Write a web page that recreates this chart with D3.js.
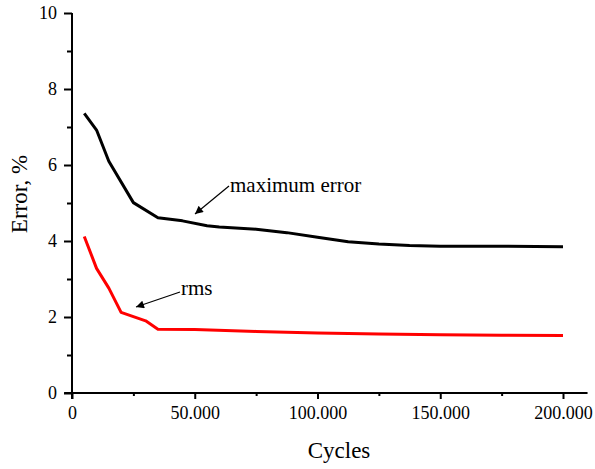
<!DOCTYPE html>
<html>
<head>
<meta charset="utf-8">
<script src="https://cdn.jsdelivr.net/npm/d3@7"></script>
<style>
	body { margin: 0; background: #fff; }
</style>
</head>
<body>
<script>
// data
var cyclesMax = [5000, 10000, 15000, 25000, 35000, 45000, 55000, 60000, 75000, 87500, 100000, 112500, 125000, 137500, 150000, 175000, 200000];
var maxError  = [7.36, 6.92, 6.10, 5.01, 4.61, 4.53, 4.40, 4.37, 4.31, 4.22, 4.10, 3.98, 3.92, 3.88, 3.86, 3.86, 3.85];
var cyclesRms = [5000, 10000, 15000, 20000, 30000, 35000, 50000, 75000, 100000, 125000, 150000, 175000, 200000];
var rmsError  = [4.12, 3.28, 2.76, 2.12, 1.90, 1.68, 1.67, 1.62, 1.58, 1.55, 1.53, 1.52, 1.51];
var xTicks = [0, 50000, 100000, 150000, 200000];
var xMinor = [25000, 75000, 125000, 175000];
var yTicks = [0, 2, 4, 6, 8, 10];
var yMinor = [1, 3, 5, 7, 9];

(function(){
	var serif = "Liberation Serif";
	var svg = d3.select("body")
			.append("svg")
			.attr("width", 595)
			.attr("height", 469)
			.attr("font-family", serif);

	var x = d3.scaleLinear().domain([0, 200000]).range([72, 563]);
	var y = d3.scaleLinear().domain([0, 10]).range([393, 13]);

	var loc = d3.formatLocale({decimal: ",", thousands: ".", grouping: [3], currency: ["", ""]});
	var fmt = loc.format(",d");

	// axis lines
	svg.append("line")
			.attr("x1", x(-3200)).attr("x2", x(210000))
			.attr("y1", y(0)).attr("y2", y(0))
			.attr("stroke", "#000").attr("stroke-width", 2);
	svg.append("line")
			.attr("x1", x(0)).attr("x2", x(0))
			.attr("y1", y(10)).attr("y2", y(0) + 6)
			.attr("stroke", "#000").attr("stroke-width", 2);

	var xAxis = svg.append("g")
			.attr("transform", "translate(0," + y(0) + ")")
			.call(d3.axisBottom(x).tickValues(xTicks).tickSize(6).tickPadding(8).tickFormat(function(d){ return d === 0 ? "0" : fmt(d); }));
	var xMinorAxis = svg.append("g")
			.attr("transform", "translate(0," + y(0) + ")")
			.call(d3.axisBottom(x).tickValues(xMinor).tickSize(3).tickFormat(""));

	var yAxis = svg.append("g")
			.attr("transform", "translate(" + x(0) + ",0)")
			.call(d3.axisLeft(y).tickValues(yTicks).tickSize(8).tickPadding(6));
	var yMinorAxis = svg.append("g")
			.attr("transform", "translate(" + x(0) + ",0)")
			.call(d3.axisLeft(y).tickValues(yMinor).tickSize(5).tickFormat(""));

	[xAxis, xMinorAxis, yAxis, yMinorAxis].forEach(function(g){
		g.attr("font-family", serif).attr("font-size", 18);
	});
	svg.selectAll(".domain").remove();
	svg.selectAll(".tick line").attr("stroke", "#000").attr("stroke-width", 2);
	svg.selectAll(".tick text").attr("fill", "#000");
	yAxis.selectAll(".tick text").attr("x", -15);
	xAxis.selectAll(".tick text").attr("y", 13);

	var line = d3.line()
			.x(function(d){ return x(d[0]); })
			.y(function(d){ return y(d[1]); });

	svg.append("path")
			.datum(d3.zip(cyclesMax, maxError))
			.attr("d", line)
			.attr("fill", "none")
			.attr("stroke", "#000")
			.attr("stroke-width", 3)
			.attr("stroke-linejoin", "round");

	svg.append("path")
			.datum(d3.zip(cyclesRms, rmsError))
			.attr("d", line)
			.attr("fill", "none")
			.attr("stroke", "#ff0000")
			.attr("stroke-width", 3)
			.attr("stroke-linejoin", "round");

	// annotations with arrows
	svg.append("defs").append("marker")
			.attr("id", "arrow")
			.attr("viewBox", "0 0 10 10")
			.attr("refX", 10).attr("refY", 5)
			.attr("markerWidth", 11).attr("markerHeight", 8)
			.attr("markerUnits", "userSpaceOnUse")
			.attr("orient", "auto")
			.append("path")
			.attr("d", "M 0 0 L 10 5 L 0 10 z")
			.attr("fill", "#000");

	svg.append("line")
			.attr("x1", 229).attr("y1", 186)
			.attr("x2", 195).attr("y2", 214)
			.attr("stroke", "#000").attr("stroke-width", 1.2)
			.attr("marker-end", "url(#arrow)");
	svg.append("text")
			.attr("x", 230).attr("y", 192)
			.attr("font-size", 21)
			.text("maximum error");

	svg.append("line")
			.attr("x1", 180).attr("y1", 292)
			.attr("x2", 136).attr("y2", 307)
			.attr("stroke", "#000").attr("stroke-width", 1.2)
			.attr("marker-end", "url(#arrow)");
	svg.append("text")
			.attr("x", 181).attr("y", 295)
			.attr("font-size", 21)
			.text("rms");

	// axis titles
	svg.append("text")
			.attr("x", 339).attr("y", 458)
			.attr("text-anchor", "middle")
			.attr("font-size", 23)
			.text("Cycles");
	svg.append("text")
			.attr("transform", "translate(27,194) rotate(-90)")
			.attr("text-anchor", "middle")
			.attr("font-size", 23)
			.text("Error, %");
})();
</script>
</body>
</html>
